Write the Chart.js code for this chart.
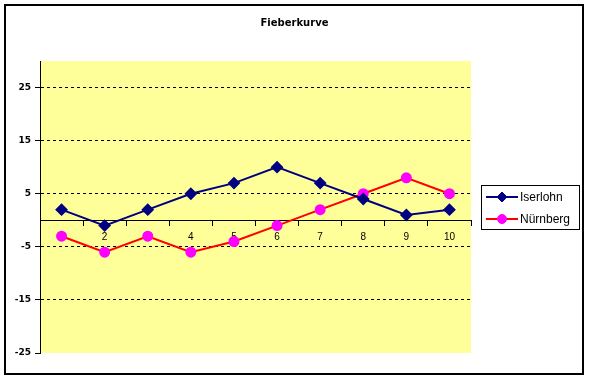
<!DOCTYPE html>
<html lang="de">
<head>
  <meta charset="UTF-8">
  <title>Fieberkurve</title>
  <script src="https://cdn.jsdelivr.net/npm/chart.js"></script>
  <style>
    body { margin: 0; background: #fff; }
  </style>
</head>
<body>
  <canvas id="fieber" width="589" height="378"></canvas>

  <script>
    const tage = ['1', '2', '3', '4', '5', '6', '7', '8', '9', '10'];
    const iserlohn = [2, -1, 2, 5, 7, 10, 7, 4, 1, 2];
    const nuernberg = [-3, -6, -3, -6, -4, -1, 2, 5, 8, 5];
    const yTicks = [-25, -15, -5, 5, 15, 25];

    // gelber Plotbereich + Rahmen, Titel über die ganze Breite zentrieren
    const hintergrund = {
      id: 'hintergrund',
      afterLayout(chart) {
        const t = chart.titleBlock;
        if (t) { t.left = 0; t.right = chart.width; t.width = chart.width; }
      },
      beforeDraw(chart) {
        const ctx = chart.ctx;
        const a = chart.chartArea;
        ctx.save();
        ctx.fillStyle = '#fff';
        ctx.fillRect(0, 0, chart.width, chart.height);
        ctx.fillStyle = '#FFFF99';
        ctx.fillRect(a.left, a.top, a.right - a.left, a.bottom - a.top);
        ctx.restore();
      },
      afterDraw(chart) {
        const ctx = chart.ctx;
        ctx.save();
        ctx.strokeStyle = '#000';
        ctx.lineWidth = 2;
        ctx.strokeRect(5, 5, 578, 369);
        ctx.restore();
      }
    };

    // Legende im Excel-Stil (Linie mit Marker, Kasten)
    const legende = {
      id: 'legende',
      afterDraw(chart) {
        const ctx = chart.ctx;
        ctx.save();
        ctx.strokeStyle = '#000';
        ctx.lineWidth = 1;
        ctx.strokeRect(481.5, 185.5, 98, 44);
        chart.data.datasets.forEach((ds, i) => {
          const y = 197 + i * 22;
          ctx.strokeStyle = ds.borderColor;
          ctx.lineWidth = 2;
          ctx.beginPath();
          ctx.moveTo(486, y);
          ctx.lineTo(518, y);
          ctx.stroke();
          ctx.fillStyle = ds.pointBackgroundColor;
          ctx.strokeStyle = ds.pointBorderColor;
          ctx.lineWidth = 1;
          Chart.helpers.drawPoint(ctx, {pointStyle: ds.pointStyle, radius: ds.pointRadius, rotation: 0, borderWidth: 1}, 502, y);
          ctx.fillStyle = '#000';
          ctx.font = '12px "Liberation Sans", Arial, sans-serif';
          ctx.textBaseline = 'middle';
          ctx.fillText(ds.label, 520, y + 1);
        });
        ctx.restore();
      }
    };

    const data = {
      labels: tage,
      datasets: [{
        label: 'Iserlohn',
        data: iserlohn,
        borderColor: '#000080',
        borderWidth: 2,
        pointStyle: 'rectRot',
        pointRadius: 5,
        pointBackgroundColor: '#000080',
        pointBorderColor: '#000080',
        tension: 0
      }, {
        label: 'Nürnberg',
        data: nuernberg,
        borderColor: '#FF0000',
        borderWidth: 2,
        pointStyle: 'circle',
        pointRadius: 4.5,
        pointBackgroundColor: '#FF00FF',
        pointBorderColor: '#FF00FF',
        tension: 0
      }]
    };

    const config = {
      type: 'line',
      data: data,
      options: {
        responsive: false,
        animation: false,
        layout: { padding: { left: 0, right: 118, top: 0, bottom: 25 } },
        plugins: {
          legend: { display: false },
          tooltip: { enabled: false },
          title: {
            display: true,
            text: 'Fieberkurve',
            color: '#000',
            font: { family: '"DejaVu Sans", Tahoma, sans-serif', size: 10, weight: 'bold' },
            padding: { top: 17, bottom: 32 }
          }
        },
        scales: {
          x: {
            position: { y: 0 },
            offset: true,
            grid: { drawOnChartArea: false, drawTicks: true, tickLength: 5, offset: true, color: '#000' },
            border: { display: true, color: '#000', width: 1 },
            ticks: {
              color: '#000',
              padding: 6,
              maxRotation: 0,
              font: { family: '"Liberation Sans", Tahoma, sans-serif', size: 10 }
            }
          },
          y: {
            min: -25,
            max: 30,
            afterBuildTicks: s => { s.ticks = yTicks.map(v => ({ value: v })); },
            afterFit: s => { s.width = 40; },
            grid: {
              color: c => (c.tick && c.tick.value === -25) ? 'rgba(0,0,0,0)' : '#000',
              tickColor: '#000',
              tickLength: 5,
              lineWidth: 1
            },
            border: { display: true, color: '#000', width: 1, dash: [3, 3] },
            ticks: {
              color: '#000',
              padding: 4,
              font: { family: '"DejaVu Sans", Tahoma, sans-serif', size: 9, weight: 'bold' }
            }
          }
        }
      },
      plugins: [hintergrund, legende]
    };

    new Chart(document.getElementById('fieber'), config);
  </script>
</body>
</html>
